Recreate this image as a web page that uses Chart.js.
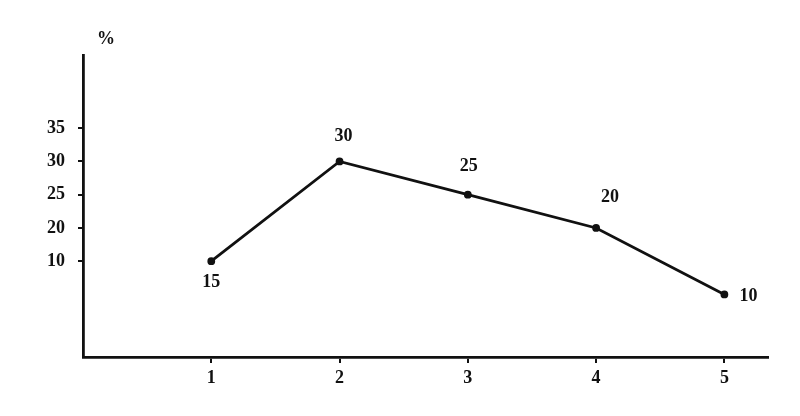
<!DOCTYPE html>
<html>
<head>
<meta charset="utf-8">
<script src="https://cdn.jsdelivr.net/npm/chart.js@4.4.1/dist/chart.umd.min.js"></script>
<style>
  html, body { margin: 0; padding: 0; background: #fff; }
  #wrap { width: 800px; height: 416px; }
</style>
</head>
<body>
<div id="wrap"><canvas id="lineChart"></canvas></div>
<script>
// chart data
const xValues = [1, 2, 3, 4, 5];
const yValues = [15, 30, 25, 20, 10];
const xTicks = [1, 2, 3, 4, 5];
// y tick positions and the labels printed on them (original prints "10" at the 15 mark)
const yTickValues = [15, 20, 25, 30, 35];
const yTickLabels = ['10', '20', '25', '30', '35'];
const yUnit = '%';

// where each value label sits relative to its point (px)
const labelOffsets = [[0, 21], [4, -25], [1, -28], [14, -31], [24, 2]];

const FONT = { family: '"Liberation Serif", "DejaVu Serif", serif', size: 18, weight: 'bold' };

const valueLabels = {
    id: 'valueLabels',
    afterDatasetsDraw(chart) {
        const ctx = chart.ctx;
        const meta = chart.getDatasetMeta(0);
        ctx.save();
        ctx.fillStyle = '#111';
        ctx.font = `bold ${FONT.size}px ${FONT.family}`;
        ctx.textAlign = 'center';
        ctx.textBaseline = 'middle';
        meta.data.forEach((pt, i) => {
            const off = labelOffsets[i];
            ctx.fillText(String(yValues[i]), pt.x + off[0], pt.y + off[1]);
        });
        // unit above the y axis
        ctx.fillText(yUnit, chart.chartArea.left + 23, 39);
        ctx.restore();
    }
};

new Chart(document.getElementById('lineChart'), {
    type: 'line',
    data: {
        datasets: [{
            data: xValues.map((x, i) => ({ x: x, y: yValues[i] })),
            borderColor: '#111',
            backgroundColor: '#111',
            borderWidth: 2.8,
            pointRadius: 2.5,
            pointHoverRadius: 2.5,
            tension: 0,
            fill: false
        }]
    },
    options: {
        responsive: true,
        maintainAspectRatio: false,
        animation: false,
        layout: { padding: { top: 55, right: 32, left: 0, bottom: 0 } },
        plugins: { legend: { display: false }, tooltip: { enabled: false } },
        scales: {
            x: {
                type: 'linear',
                min: 0,
                max: 5.34,
                afterBuildTicks: s => { s.ticks = xTicks.map(v => ({ value: v })); },
                afterFit: s => { s.height = 59; },
                border: { color: '#111', width: 2.8 },
                grid: { drawOnChartArea: false, drawTicks: true, tickLength: 6, color: '#111', lineWidth: 2 },
                ticks: { color: '#111', font: FONT, padding: 5 }
            },
            y: {
                type: 'linear',
                min: 0.6,
                max: 46,
                afterBuildTicks: s => { s.ticks = yTickValues.map(v => ({ value: v })); },
                afterFit: s => { s.width = 83; },
                border: { color: '#111', width: 2.8 },
                grid: { drawOnChartArea: false, drawTicks: true, tickLength: 5, color: '#111', lineWidth: 2 },
                ticks: {
                    color: '#111',
                    font: FONT,
                    padding: 13,
                    callback: (v) => yTickLabels[yTickValues.indexOf(v)]
                }
            }
        }
    },
    plugins: [valueLabels]
});
</script>
</body>
</html>
